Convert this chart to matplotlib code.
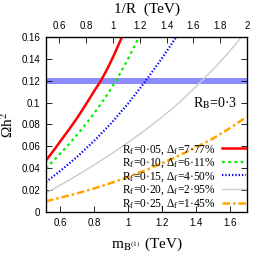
import matplotlib
matplotlib.use('Agg')
import matplotlib.pyplot as plt
import numpy as np

# Relic density vs. KK mass
# mB = m_B(1) in TeV, omega = Omega h^2
red_mB = [0.516, 0.56, 0.60, 0.65, 0.70, 0.75, 0.80, 0.84, 0.88, 0.92, 0.96, 0.98]
red_om = [0.047, 0.056, 0.0645, 0.075, 0.086, 0.098, 0.1105, 0.120, 0.1315, 0.1445, 0.1585, 0.166]

green_mB = [0.516, 0.56, 0.60, 0.65, 0.70, 0.76, 0.82, 0.88, 0.94, 1.00, 1.06, 1.08]
green_om = [0.040, 0.0468, 0.0532, 0.0617, 0.0707, 0.0821, 0.0944, 0.1079, 0.1229, 0.140, 0.1586, 0.1652]

blue_mB = [0.516, 0.60, 0.70, 0.80, 0.90, 1.00, 1.10, 1.20, 1.28, 1.30]
blue_om = [0.0274, 0.0375, 0.0505, 0.065, 0.081, 0.099, 0.119, 0.1405, 0.1589, 0.1637]

gray_mB = [0.516, 0.60, 0.70, 0.80, 0.90, 1.00, 1.10, 1.20, 1.30, 1.40, 1.50, 1.60, 1.68]
gray_om = [0.0174, 0.0245, 0.0335, 0.043, 0.053, 0.0635, 0.0747, 0.0867, 0.0997, 0.1145, 0.130, 0.147, 0.162]

orange_mB = [0.516, 0.60, 0.70, 0.80, 0.90, 1.00, 1.10, 1.20, 1.30, 1.40, 1.50, 1.60, 1.70]
orange_om = [0.0098, 0.013, 0.017, 0.0215, 0.0265, 0.032, 0.038, 0.0445, 0.0515, 0.059, 0.067, 0.0765, 0.087]

labels = ['R$_\\mathrm{f}$=0\u00b705, \u0394$_\\mathrm{f}$=7\u00b777%',
          'R$_\\mathrm{f}$=0\u00b710, \u0394$_\\mathrm{f}$=6\u00b711%',
          'R$_\\mathrm{f}$=0\u00b715, \u0394$_\\mathrm{f}$=4\u00b750%',
          'R$_\\mathrm{f}$=0\u00b720, \u0394$_\\mathrm{f}$=2\u00b795%',
          'R$_\\mathrm{f}$=0\u00b725, \u0394$_\\mathrm{f}$=1\u00b745%']

band_lo, band_hi = 0.117, 0.1227

bottom_ticks = [0.6, 0.8, 1.0, 1.2, 1.4, 1.6]
top_ticks = [0.6, 0.8, 1.0, 1.2, 1.4, 1.6, 1.8, 2.0]
y_ticks = [0, 0.02, 0.04, 0.06, 0.08, 0.10, 0.12, 0.14, 0.16]

plt.rcParams['mathtext.fontset'] = 'stix'
serif = ['Liberation Serif', 'DejaVu Serif']
sans = ['Liberation Sans Narrow', 'Liberation Sans', 'DejaVu Sans']

fig = plt.figure(figsize=(2.62, 2.62), dpi=100)
ax = fig.add_axes([0.1756, 0.191, 0.7674, 0.668])

ax.axhspan(band_lo, band_hi, color='#8c8cff', lw=0, zorder=1)

ax.plot(red_mB, red_om, color='#ff0000', lw=1.8, ls='-', label=labels[0], zorder=3)
ax.plot(green_mB, green_om, color='#00f000', lw=1.6, ls=(0, (1.2, 1.6)), label=labels[1], zorder=3)
ax.plot(blue_mB, blue_om, color='#0000ff', lw=1.6, ls=(0, (0.6, 0.9)), label=labels[2], zorder=3)
ax.plot(gray_mB, gray_om, color='#cccccc', lw=1.0, ls='-', label=labels[3], zorder=2)
ax.plot(orange_mB, orange_om, color='#ffa500', lw=1.8, ls=(0, (3, 1.2, 1, 1.2)), label=labels[4], zorder=3)

ax.set_xlim(0.516, 1.702)
ax.set_ylim(0, 0.16)
ax.set_xticks(bottom_ticks)
ax.set_xticklabels(['%g' % t for t in bottom_ticks])
ax.set_yticks(y_ticks)
ax.set_yticklabels(['%g' % t for t in y_ticks])
ax.tick_params(direction='in', length=4, width=0.6, labelsize=7, right=True, pad=4)
for lab in ax.get_xticklabels() + ax.get_yticklabels():
    lab.set_family(sans)
for sp in ax.spines.values():
    sp.set_linewidth(0.9)

ax.set_xlabel('m$_\\mathrm{B^{(1)}}$ (TeV)', family=serif, fontsize=11, labelpad=6)
ax.set_ylabel('\u03a9h$^2$', family=serif, fontsize=11, labelpad=4)

top = ax.twiny()
top.set_xlim(0.5, 2.0)
top.set_xticks(top_ticks)
top.set_xticklabels(['%g' % t for t in top_ticks])
top.tick_params(direction='in', length=4, width=0.6, labelsize=7, pad=4)
for lab in top.get_xticklabels():
    lab.set_family(sans)
top.set_xlabel('1/R  (TeV)', family=serif, fontsize=11, labelpad=6)

ax.text(0.84, 0.62, 'R$_\\mathrm{B}$=0\u00b73', transform=ax.transAxes,
        family=serif, fontsize=10, ha='center', va='center')

leg = ax.legend(loc='lower right', frameon=False, markerfirst=False,
                prop={'family': serif, 'size': 8.3}, handlelength=2.1,
                handletextpad=0.5, labelspacing=0.0, borderaxespad=0.0,
                borderpad=0.1)

fig.savefig('out.png', dpi=100)
